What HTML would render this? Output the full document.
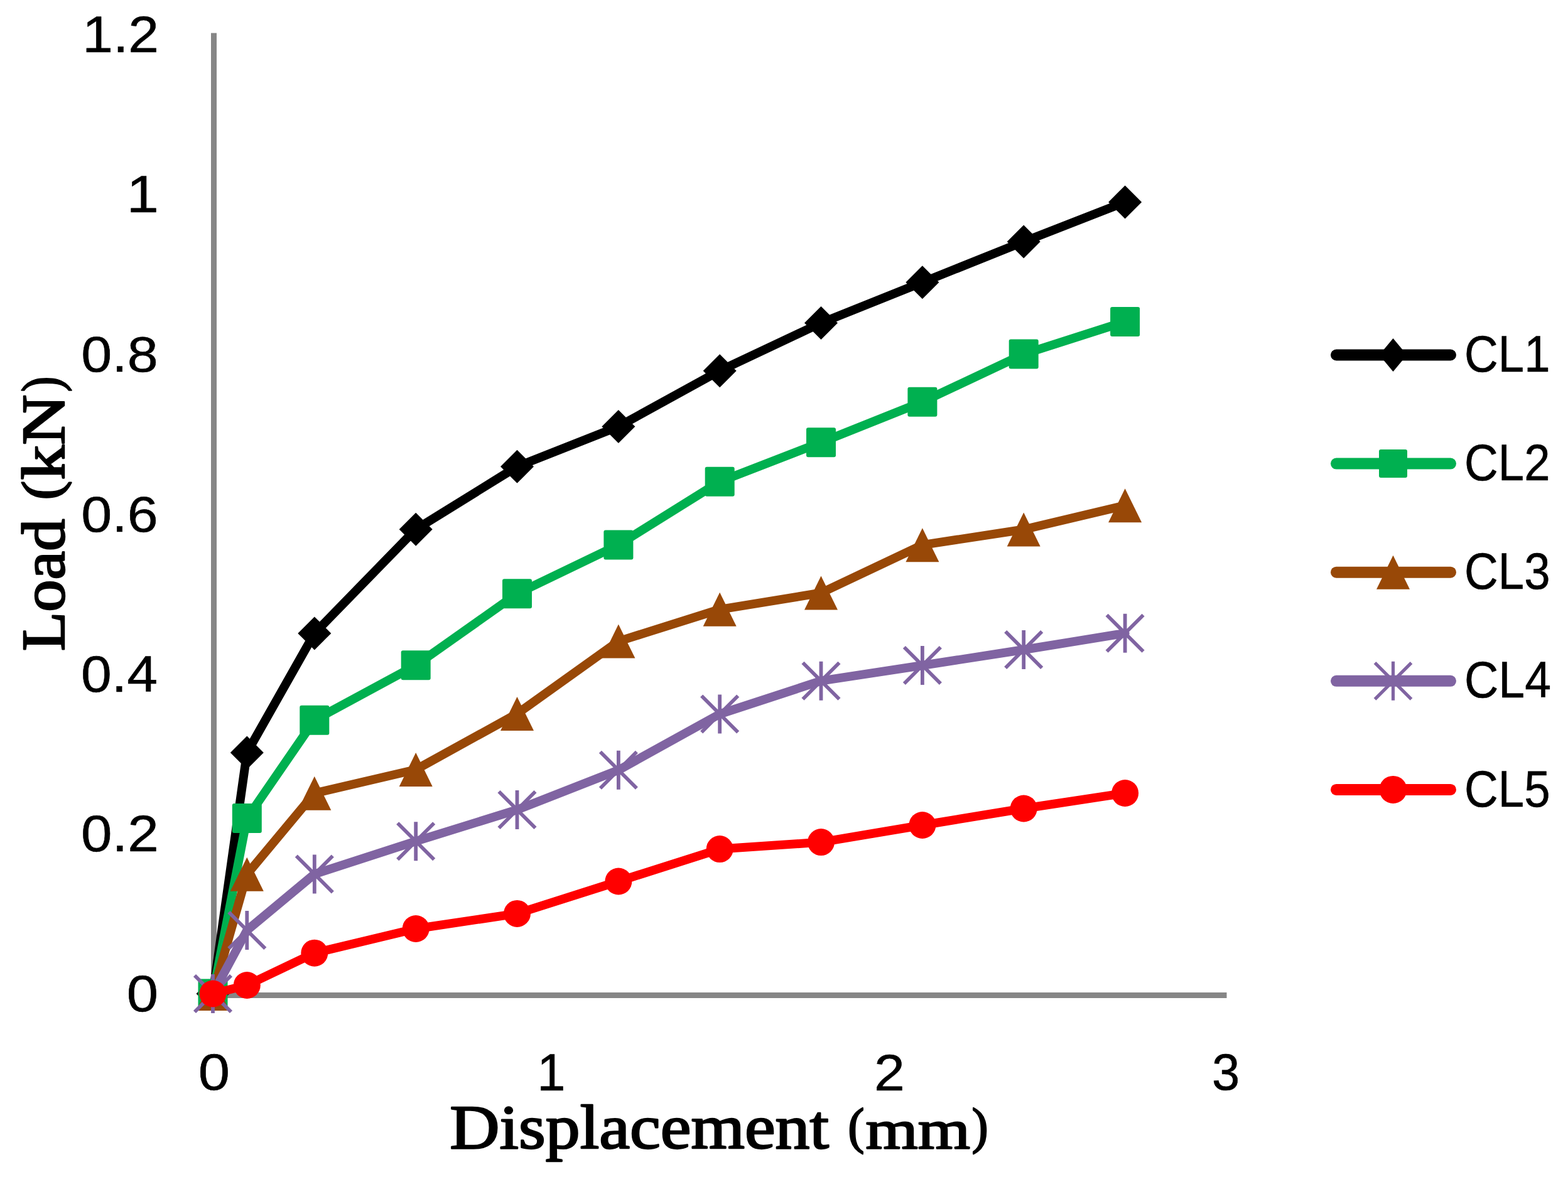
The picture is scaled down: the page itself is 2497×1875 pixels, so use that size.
<!DOCTYPE html>
<html><head><meta charset="utf-8"><title>Load vs Displacement</title>
<style>
html,body{margin:0;padding:0;background:#fff;}
body{width:2497px;height:1875px;overflow:hidden;}
svg{display:block;}
text{font-kerning:normal;}
</style></head>
<body>
<svg width="2497" height="1875" viewBox="0 0 2497 1875">
<rect width="2497" height="1875" fill="#fff"/>
<rect x="336" y="52.6" width="9" height="1537" fill="#868686"/>
<rect x="336" y="1581" width="1617.5" height="9" fill="#868686"/>
<polyline points="339.0,1583 393.3,1199 500.8,1008.9 662.2,843.2 823.5,743.3 984.9,679.4 1146.2,590.7 1307.5,514.5 1468.9,449.7 1630.2,385 1791.6,322" fill="none" stroke="#000000" stroke-width="14" stroke-linejoin="round" stroke-linecap="round"/>
<path d="M339.0 1556.5L365.5 1583L339.0 1609.5L312.5 1583Z" fill="#000000"/>
<path d="M393.3 1172.5L419.8 1199L393.3 1225.5L366.8 1199Z" fill="#000000"/>
<path d="M500.8 982.4L527.3 1008.9L500.8 1035.4L474.3 1008.9Z" fill="#000000"/>
<path d="M662.2 816.7L688.7 843.2L662.2 869.7L635.7 843.2Z" fill="#000000"/>
<path d="M823.5 716.8L850.0 743.3L823.5 769.8L797.0 743.3Z" fill="#000000"/>
<path d="M984.9 652.9L1011.4 679.4L984.9 705.9L958.4 679.4Z" fill="#000000"/>
<path d="M1146.2 564.2L1172.7 590.7L1146.2 617.2L1119.7 590.7Z" fill="#000000"/>
<path d="M1307.5 488.0L1334.0 514.5L1307.5 541.0L1281.0 514.5Z" fill="#000000"/>
<path d="M1468.9 423.2L1495.4 449.7L1468.9 476.2L1442.4 449.7Z" fill="#000000"/>
<path d="M1630.2 358.5L1656.7 385L1630.2 411.5L1603.7 385Z" fill="#000000"/>
<path d="M1791.6 295.5L1818.1 322L1791.6 348.5L1765.1 322Z" fill="#000000"/>
<polyline points="339.0,1583 393.3,1303.6 500.8,1147.2 662.2,1059.8 823.5,945.8 984.9,868 1146.2,767.2 1307.5,704.7 1468.9,640.2 1630.2,564.1 1791.6,512.5" fill="none" stroke="#00B050" stroke-width="14" stroke-linejoin="round" stroke-linecap="round"/>
<rect x="315.5" y="1559.5" width="47.0" height="47.0" rx="3" fill="#00B050"/>
<rect x="369.8" y="1280.1" width="47.0" height="47.0" rx="3" fill="#00B050"/>
<rect x="477.3" y="1123.7" width="47.0" height="47.0" rx="3" fill="#00B050"/>
<rect x="638.7" y="1036.3" width="47.0" height="47.0" rx="3" fill="#00B050"/>
<rect x="800.0" y="922.3" width="47.0" height="47.0" rx="3" fill="#00B050"/>
<rect x="961.4" y="844.5" width="47.0" height="47.0" rx="3" fill="#00B050"/>
<rect x="1122.7" y="743.7" width="47.0" height="47.0" rx="3" fill="#00B050"/>
<rect x="1284.0" y="681.2" width="47.0" height="47.0" rx="3" fill="#00B050"/>
<rect x="1445.4" y="616.7" width="47.0" height="47.0" rx="3" fill="#00B050"/>
<rect x="1606.7" y="540.6" width="47.0" height="47.0" rx="3" fill="#00B050"/>
<rect x="1768.1" y="489.0" width="47.0" height="47.0" rx="3" fill="#00B050"/>
<polyline points="339.0,1583 393.3,1392.7 500.8,1263.7 662.2,1226 823.5,1137 984.9,1021.6 1146.2,970.8 1307.5,944.5 1468.9,868.2 1630.2,843.5 1791.6,805.2" fill="none" stroke="#984807" stroke-width="14" stroke-linejoin="round" stroke-linecap="round"/>
<path d="M339.0 1556.0L365.5 1610.0L312.5 1610.0Z" fill="#984807"/>
<path d="M393.3 1365.7L419.8 1419.7L366.8 1419.7Z" fill="#984807"/>
<path d="M500.8 1236.7L527.3 1290.7L474.3 1290.7Z" fill="#984807"/>
<path d="M662.2 1199.0L688.7 1253.0L635.7 1253.0Z" fill="#984807"/>
<path d="M823.5 1110.0L850.0 1164.0L797.0 1164.0Z" fill="#984807"/>
<path d="M984.9 994.6L1011.4 1048.6L958.4 1048.6Z" fill="#984807"/>
<path d="M1146.2 943.8L1172.7 997.8L1119.7 997.8Z" fill="#984807"/>
<path d="M1307.5 917.5L1334.0 971.5L1281.0 971.5Z" fill="#984807"/>
<path d="M1468.9 841.2L1495.4 895.2L1442.4 895.2Z" fill="#984807"/>
<path d="M1630.2 816.5L1656.7 870.5L1603.7 870.5Z" fill="#984807"/>
<path d="M1791.6 778.2L1818.1 832.2L1765.1 832.2Z" fill="#984807"/>
<polyline points="339.0,1583 393.3,1482 500.8,1392.5 662.2,1340.2 823.5,1290 984.9,1226.8 1146.2,1137.5 1307.5,1084.7 1468.9,1060 1630.2,1035 1791.6,1008.8" fill="none" stroke="#8064A2" stroke-width="14" stroke-linejoin="round" stroke-linecap="round"/>
<path d="M310.0 1554.0L368.0 1612.0M368.0 1554.0L310.0 1612.0M339.0 1552.0L339.0 1614.0" stroke="#8064A2" stroke-width="5.8" fill="none"/>
<path d="M364.3 1453.0L422.3 1511.0M422.3 1453.0L364.3 1511.0M393.3 1451.0L393.3 1513.0" stroke="#8064A2" stroke-width="5.8" fill="none"/>
<path d="M471.8 1363.5L529.8 1421.5M529.8 1363.5L471.8 1421.5M500.8 1361.5L500.8 1423.5" stroke="#8064A2" stroke-width="5.8" fill="none"/>
<path d="M633.2 1311.2L691.2 1369.2M691.2 1311.2L633.2 1369.2M662.2 1309.2L662.2 1371.2" stroke="#8064A2" stroke-width="5.8" fill="none"/>
<path d="M794.5 1261.0L852.5 1319.0M852.5 1261.0L794.5 1319.0M823.5 1259.0L823.5 1321.0" stroke="#8064A2" stroke-width="5.8" fill="none"/>
<path d="M955.9 1197.8L1013.9 1255.8M1013.9 1197.8L955.9 1255.8M984.9 1195.8L984.9 1257.8" stroke="#8064A2" stroke-width="5.8" fill="none"/>
<path d="M1117.2 1108.5L1175.2 1166.5M1175.2 1108.5L1117.2 1166.5M1146.2 1106.5L1146.2 1168.5" stroke="#8064A2" stroke-width="5.8" fill="none"/>
<path d="M1278.5 1055.7L1336.5 1113.7M1336.5 1055.7L1278.5 1113.7M1307.5 1053.7L1307.5 1115.7" stroke="#8064A2" stroke-width="5.8" fill="none"/>
<path d="M1439.9 1031.0L1497.9 1089.0M1497.9 1031.0L1439.9 1089.0M1468.9 1029.0L1468.9 1091.0" stroke="#8064A2" stroke-width="5.8" fill="none"/>
<path d="M1601.2 1006.0L1659.2 1064.0M1659.2 1006.0L1601.2 1064.0M1630.2 1004.0L1630.2 1066.0" stroke="#8064A2" stroke-width="5.8" fill="none"/>
<path d="M1762.6 979.8L1820.6 1037.8M1820.6 979.8L1762.6 1037.8M1791.6 977.8L1791.6 1039.8" stroke="#8064A2" stroke-width="5.8" fill="none"/>
<polyline points="339.0,1583 393.3,1569.5 500.8,1518.2 662.2,1479.5 823.5,1455.4 984.9,1404 1146.2,1352.6 1307.5,1341.6 1468.9,1314.5 1630.2,1288 1791.6,1263.5" fill="none" stroke="#FF0000" stroke-width="14" stroke-linejoin="round" stroke-linecap="round"/>
<circle cx="339.0" cy="1583" r="21.5" fill="#FF0000"/>
<circle cx="393.3" cy="1569.5" r="21.5" fill="#FF0000"/>
<circle cx="500.8" cy="1518.2" r="21.5" fill="#FF0000"/>
<circle cx="662.2" cy="1479.5" r="21.5" fill="#FF0000"/>
<circle cx="823.5" cy="1455.4" r="21.5" fill="#FF0000"/>
<circle cx="984.9" cy="1404" r="21.5" fill="#FF0000"/>
<circle cx="1146.2" cy="1352.6" r="21.5" fill="#FF0000"/>
<circle cx="1307.5" cy="1341.6" r="21.5" fill="#FF0000"/>
<circle cx="1468.9" cy="1314.5" r="21.5" fill="#FF0000"/>
<circle cx="1630.2" cy="1288" r="21.5" fill="#FF0000"/>
<circle cx="1791.6" cy="1263.5" r="21.5" fill="#FF0000"/>
<line x1="2128" y1="565.5" x2="2310" y2="565.5" stroke="#000000" stroke-width="18" stroke-linecap="round"/>
<path d="M2218.5 539.0L2240.5 565.5L2218.5 592.0L2196.5 565.5Z" fill="#000000"/>
<line x1="2128" y1="738.6" x2="2310" y2="738.6" stroke="#00B050" stroke-width="18" stroke-linecap="round"/>
<rect x="2196.0" y="716.1" width="45.0" height="45.0" rx="3" fill="#00B050"/>
<line x1="2128" y1="911.7" x2="2310" y2="911.7" stroke="#984807" stroke-width="18" stroke-linecap="round"/>
<path d="M2218.5 884.7L2245.0 938.7L2192.0 938.7Z" fill="#984807"/>
<line x1="2128" y1="1084.8" x2="2310" y2="1084.8" stroke="#8064A2" stroke-width="18" stroke-linecap="round"/>
<path d="M2189.5 1055.8L2247.5 1113.8M2247.5 1055.8L2189.5 1113.8M2218.5 1053.8L2218.5 1115.8" stroke="#8064A2" stroke-width="5.2" fill="none"/>
<line x1="2128" y1="1257.9" x2="2310" y2="1257.9" stroke="#FF0000" stroke-width="18" stroke-linecap="round"/>
<circle cx="2218.5" cy="1257.9" r="22" fill="#FF0000"/>
<text transform="translate(131.16,83.20) scale(1.0753,1)" font-family="Liberation Sans, Arial, sans-serif" font-weight="normal" font-size="81.57" stroke="#000" stroke-width="0.60" stroke-linejoin="round">1.2</text>
<text transform="translate(201.87,338.20) scale(1.1018,1)" font-family="Liberation Sans, Arial, sans-serif" font-weight="normal" font-size="83.33" stroke="#000" stroke-width="0.60" stroke-linejoin="round">1</text>
<text transform="translate(129.28,592.20) scale(1.0973,1)" font-family="Liberation Sans, Arial, sans-serif" font-weight="normal" font-size="80.28" stroke="#000" stroke-width="0.60" stroke-linejoin="round">0.8</text>
<text transform="translate(129.28,847.20) scale(1.0973,1)" font-family="Liberation Sans, Arial, sans-serif" font-weight="normal" font-size="80.28" stroke="#000" stroke-width="0.60" stroke-linejoin="round">0.6</text>
<text transform="translate(129.09,1101.68) scale(1.0748,1)" font-family="Liberation Sans, Arial, sans-serif" font-weight="normal" font-size="81.55" stroke="#000" stroke-width="0.60" stroke-linejoin="round">0.4</text>
<text transform="translate(129.04,1355.88) scale(1.0895,1)" font-family="Liberation Sans, Arial, sans-serif" font-weight="normal" font-size="81.69" stroke="#000" stroke-width="0.60" stroke-linejoin="round">0.2</text>
<text transform="translate(201.68,1610.89) scale(1.1184,1)" font-family="Liberation Sans, Arial, sans-serif" font-weight="normal" font-size="80.85" stroke="#000" stroke-width="0.60" stroke-linejoin="round">0</text>
<text transform="translate(315.68,1735.89) scale(1.1184,1)" font-family="Liberation Sans, Arial, sans-serif" font-weight="normal" font-size="80.85" stroke="#000" stroke-width="0.60" stroke-linejoin="round">0</text>
<text transform="translate(855.20,1736.70) scale(0.9781,1)" font-family="Liberation Sans, Arial, sans-serif" font-weight="normal" font-size="83.19" stroke="#000" stroke-width="0.60" stroke-linejoin="round">1</text>
<text transform="translate(1391.91,1736.70) scale(1.0710,1)" font-family="Liberation Sans, Arial, sans-serif" font-weight="normal" font-size="82.00" stroke="#000" stroke-width="0.60" stroke-linejoin="round">2</text>
<text transform="translate(1930.12,1735.89) scale(0.9843,1)" font-family="Liberation Sans, Arial, sans-serif" font-weight="normal" font-size="80.85" stroke="#000" stroke-width="0.60" stroke-linejoin="round">3</text>
<text transform="translate(2332.08,592.19) scale(0.9199,1)" font-family="Liberation Sans, Arial, sans-serif" font-weight="normal" font-size="80.85" stroke="#000" stroke-width="0.60" stroke-linejoin="round">CL1</text>
<text transform="translate(2332.08,765.29) scale(0.9199,1)" font-family="Liberation Sans, Arial, sans-serif" font-weight="normal" font-size="80.85" stroke="#000" stroke-width="0.60" stroke-linejoin="round">CL2</text>
<text transform="translate(2332.08,938.39) scale(0.9199,1)" font-family="Liberation Sans, Arial, sans-serif" font-weight="normal" font-size="80.85" stroke="#000" stroke-width="0.60" stroke-linejoin="round">CL3</text>
<text transform="translate(2332.04,1111.49) scale(0.9305,1)" font-family="Liberation Sans, Arial, sans-serif" font-weight="normal" font-size="80.85" stroke="#000" stroke-width="0.60" stroke-linejoin="round">CL4</text>
<text transform="translate(2332.08,1284.59) scale(0.9199,1)" font-family="Liberation Sans, Arial, sans-serif" font-weight="normal" font-size="80.85" stroke="#000" stroke-width="0.60" stroke-linejoin="round">CL5</text>
<text transform="translate(716.25,1829.35) scale(1.1086,1)" font-family="Liberation Serif, Times New Roman, serif" font-weight="normal" font-size="99.08" stroke="#000" stroke-width="2.50" stroke-linejoin="round">Displacement</text>
<text transform="translate(1350.46,1821.22) scale(0.7731,0.8111)" font-family="Liberation Serif, Times New Roman, serif" font-weight="normal" font-size="100.00" stroke="#000" stroke-width="3.16" stroke-linejoin="round">(</text>
<text transform="translate(1378.51,1829.55) scale(1.0711,0.8936)" font-family="Liberation Serif, Times New Roman, serif" font-weight="normal" font-size="100.00" stroke="#000" stroke-width="2.54" stroke-linejoin="round">mm</text>
<text transform="translate(1547.63,1821.22) scale(0.7731,0.8111)" font-family="Liberation Serif, Times New Roman, serif" font-weight="normal" font-size="100.00" stroke="#000" stroke-width="3.16" stroke-linejoin="round">)</text>
<text transform="translate(101.75,1037.33) rotate(-90) scale(1.0583,1)" font-family="Liberation Serif, Times New Roman, serif" font-weight="normal" font-size="96.92" stroke="#000" stroke-width="2.50" stroke-linejoin="round">Load</text>
<text transform="translate(95.42,796.54) rotate(-90) scale(0.9231,0.8633)" font-family="Liberation Serif, Times New Roman, serif" font-weight="normal" font-size="100.00" stroke="#000" stroke-width="2.80" stroke-linejoin="round">(</text>
<text transform="translate(101.75,764.58) rotate(-90) scale(1.1480,1)" font-family="Liberation Serif, Times New Roman, serif" font-weight="normal" font-size="96.92" stroke="#000" stroke-width="2.50" stroke-linejoin="round">kN</text>
<text transform="translate(95.42,624.01) rotate(-90) scale(0.7192,0.8633)" font-family="Liberation Serif, Times New Roman, serif" font-weight="normal" font-size="100.00" stroke="#000" stroke-width="3.16" stroke-linejoin="round">)</text>
</svg>
</body></html>
